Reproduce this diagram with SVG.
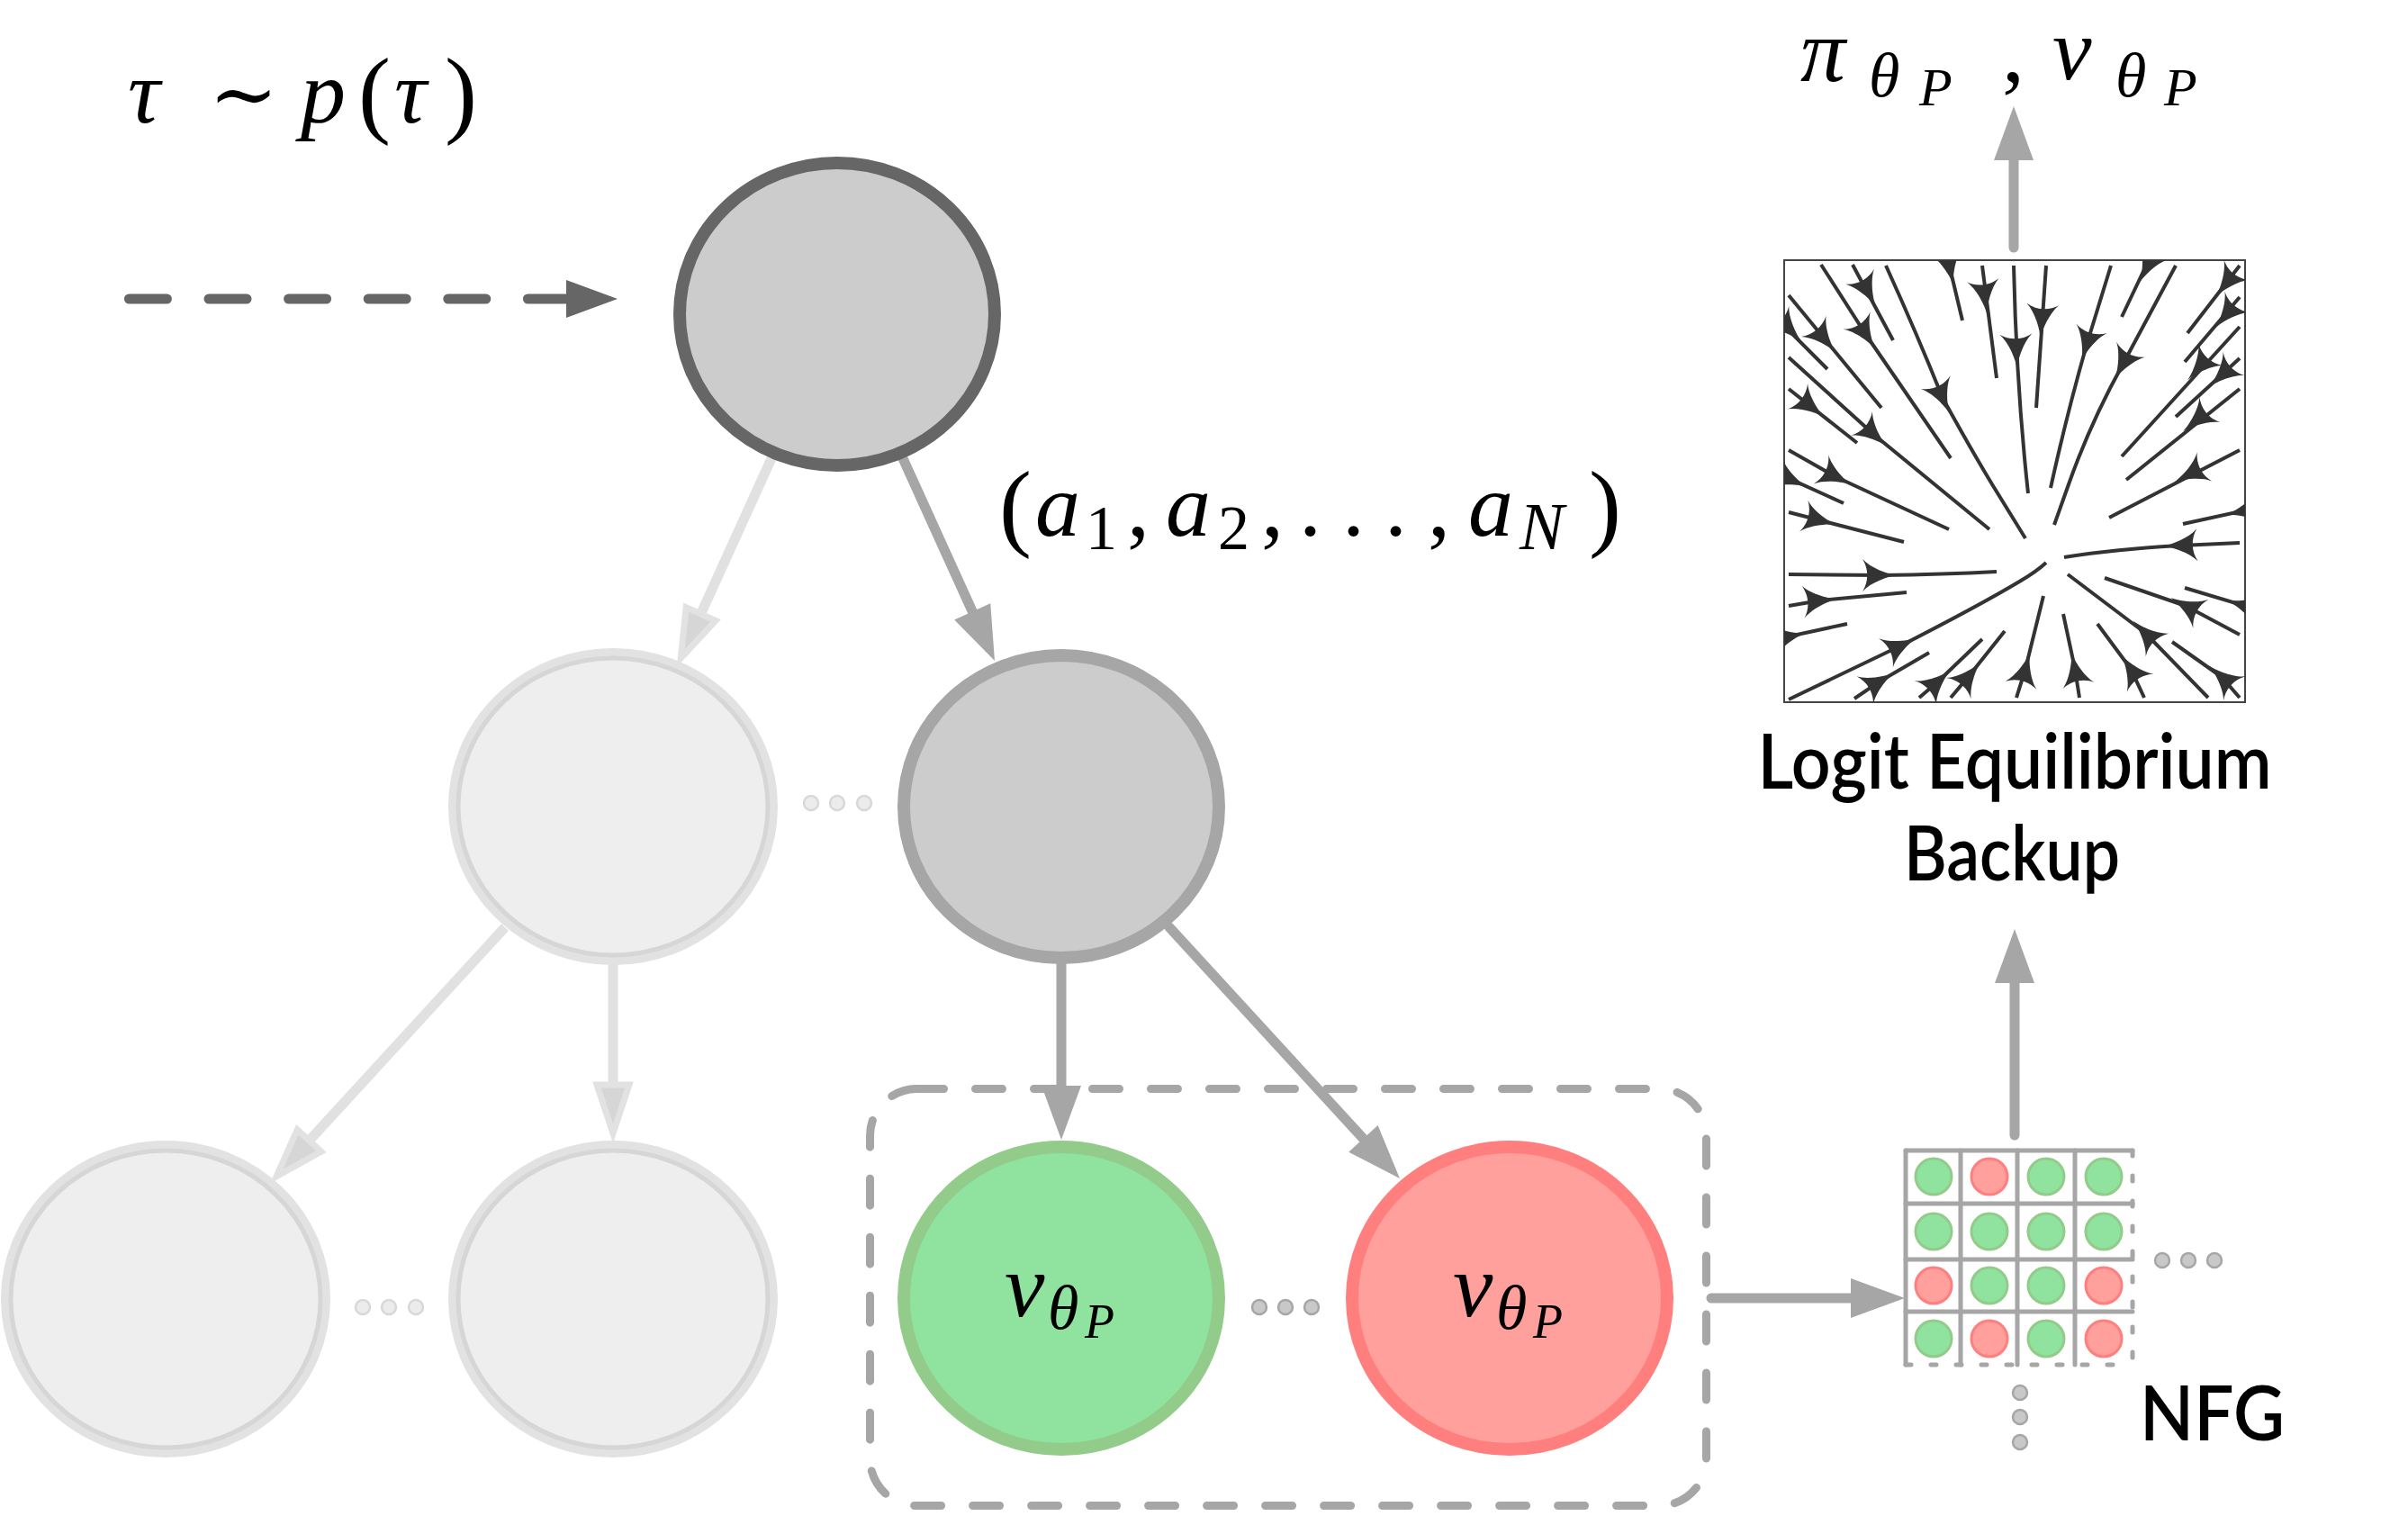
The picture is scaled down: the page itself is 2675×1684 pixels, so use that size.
<svg xmlns="http://www.w3.org/2000/svg" width="2675" height="1684" viewBox="0 0 2675 1684">
<defs>
<style>
text.m{font-family:'Liberation Serif','DejaVu Serif',serif;font-style:italic;fill:#000}
tspan.u{font-style:normal}
text.sans{font-family:Lato,'Liberation Sans',sans-serif;font-weight:600;fill:#000}
.cd{fill:none;stroke:#a6a6a6;stroke-width:11;stroke-linecap:round}
.cl{fill:none;stroke:#e1e1e1;stroke-width:11}
.sl{fill:none;stroke:#333;stroke-width:4}
.g{fill:#8fe39f;stroke:#93cb8b;stroke-width:3}
.rd{fill:#ffa09c;stroke:#ff7f7f;stroke-width:3}
.grid{stroke:#a6a6a6;stroke-width:5;fill:none;stroke-linecap:round}
.dd{fill:#c8c8c8;stroke:#a6a6a6;stroke-width:2.5}
.ld{fill:#ececec;stroke:#d8d8d8;stroke-width:2.5}
.lo{fill:none;stroke:#e2e2e2;stroke-width:14}
.li{fill:#eeeeee;stroke:#d6d6d6;stroke-width:5}
</style>
<marker id="hd" markerUnits="userSpaceOnUse" markerWidth="70" markerHeight="50" refX="0" refY="22" orient="auto" overflow="visible"><path d="M0,0 L60,22 L0,44 Z" fill="#a6a6a6"/></marker>
<marker id="hk" markerUnits="userSpaceOnUse" markerWidth="70" markerHeight="50" refX="0" refY="21" orient="auto" overflow="visible"><path d="M0,0 L57,21 L0,42 Z" fill="#666666"/></marker>
<marker id="hl" markerUnits="userSpaceOnUse" markerWidth="70" markerHeight="50" refX="0" refY="22" orient="auto" overflow="visible"><path d="M3,4 L57,22 L3,40 Z" fill="#d6d6d6" stroke="#e2e2e2" stroke-width="7"/></marker>
<path id="sa" d="M19,0 C10,1 -10,8 -19,18 C-12,7 -12,-7 -19,-18 C-10,-8 10,-1 19,0 Z" fill="#333"/>
<clipPath id="bx"><rect x="1982" y="289" width="512" height="491"/></clipPath>
</defs>
<rect width="2675" height="1684" fill="#fff"/>

<g id="group-box">
<rect x="966.5" y="1209.5" width="929" height="463" rx="52" fill="none" stroke="#a6a6a6" stroke-width="9" stroke-dasharray="30 35" stroke-linecap="round"/>
</g>

<g id="connectors">
<path d="M143.4,332 L629,332" fill="none" stroke="#666666" stroke-width="11" stroke-linecap="round" stroke-dasharray="42 46.6" marker-end="url(#hk)"/>
<path class="cl" d="M858,507 L779.8,679.3" marker-end="url(#hl)"/>
<path class="cd" d="M1002,507 L1080.2,679.3" marker-end="url(#hd)"/>
<path class="cd" d="M1179,1070 L1179,1206" marker-end="url(#hd)"/>
<path class="cd" d="M1299,1030 L1514.4,1264.8" marker-end="url(#hd)"/>
<path class="cl" d="M561,1030 L345.6,1264.8" marker-end="url(#hl)"/>
<path class="cl" d="M681,1070 L681,1202" marker-end="url(#hl)"/>
<path class="cd" d="M1901,1442 L2056,1442" marker-end="url(#hd)"/>
<path class="cd" d="M2238,1261 L2238,1092" marker-end="url(#hd)"/>
<path class="cd" d="M2237,275 L2237,178" marker-end="url(#hd)"/>
</g>

<g id="node-root">
<ellipse cx="930" cy="349" rx="175" ry="168" fill="#cccccc" stroke="#666666" stroke-width="14"/>
</g>
<g id="node-mid-light">
<ellipse class="lo" cx="681" cy="896" rx="176" ry="169"/>
<ellipse class="li" cx="681" cy="896" rx="172" ry="165"/>
</g>
<g id="node-mid-dark">
<ellipse cx="1179" cy="896" rx="175" ry="168" fill="#cccccc" stroke="#a6a6a6" stroke-width="14"/>
</g>
<g id="node-leaf-light-1">
<ellipse class="lo" cx="184" cy="1443" rx="176" ry="169"/>
<ellipse class="li" cx="184" cy="1443" rx="172" ry="165"/>
</g>
<g id="node-leaf-light-2">
<ellipse class="lo" cx="681" cy="1443" rx="176" ry="169"/>
<ellipse class="li" cx="681" cy="1443" rx="172" ry="165"/>
</g>
<g id="node-leaf-green">
<ellipse cx="1179" cy="1442" rx="175" ry="168" fill="#8fe39f" stroke="#93cb8b" stroke-width="14"/>
<text class="m"><tspan x="1116" y="1462" font-size="100">v</tspan><tspan x="1164" y="1476" font-size="70">θ</tspan><tspan x="1205" y="1486" font-size="54">P</tspan></text>
</g>
<g id="node-leaf-red">
<ellipse cx="1677" cy="1442" rx="175" ry="168" fill="#ffa09c" stroke="#ff7f7f" stroke-width="14"/>
<text class="m"><tspan x="1614" y="1462" font-size="100">v</tspan><tspan x="1662" y="1476" font-size="70">θ</tspan><tspan x="1703" y="1486" font-size="54">P</tspan></text>
</g>

<g id="ellipses">
<circle class="ld" cx="901" cy="892" r="8"/><circle class="ld" cx="930" cy="892" r="8"/><circle class="ld" cx="960" cy="892" r="8"/>
<circle class="ld" cx="403" cy="1452" r="8"/><circle class="ld" cx="432" cy="1452" r="8"/><circle class="ld" cx="462" cy="1452" r="8"/>
<circle class="dd" cx="1399" cy="1452" r="8"/><circle class="dd" cx="1428" cy="1452" r="8"/><circle class="dd" cx="1457" cy="1452" r="8"/>
</g>

<g id="labels">
<text class="m"><tspan x="142" y="136" font-size="100">τ</tspan><tspan class="u" x="232" y="136" font-size="92">∼</tspan><tspan x="334" y="136" font-size="100">p</tspan><tspan class="u" x="398" y="139" font-size="108">(</tspan><tspan x="438" y="136" font-size="100">τ</tspan><tspan class="u" x="494" y="139" font-size="108">)</tspan></text>
<text class="m"><tspan class="u" x="1110" y="598" font-size="108">(</tspan><tspan x="1150" y="595" font-size="100">a</tspan><tspan class="u" x="1206" y="610" font-size="70">1</tspan><tspan class="u" x="1252" y="595" font-size="100">,</tspan><tspan x="1295" y="595" font-size="100">a</tspan><tspan class="u" x="1353" y="610" font-size="70">2</tspan><tspan class="u" x="1401" y="595" font-size="100">,</tspan><tspan class="u" x="1443" y="595" font-size="100">.</tspan><tspan class="u" x="1491" y="595" font-size="100">.</tspan><tspan class="u" x="1538" y="595" font-size="100">.</tspan><tspan class="u" x="1586" y="595" font-size="100">,</tspan><tspan x="1631" y="595" font-size="100">a</tspan><tspan x="1688" y="610" font-size="74">N</tspan><tspan class="u" x="1765" y="598" font-size="108">)</tspan></text>
<text class="m"><tspan x="2000" y="90" font-size="100">π</tspan><tspan x="2076" y="107" font-size="70">θ</tspan><tspan x="2132" y="117" font-size="60">P</tspan><tspan class="u" x="2224" y="90" font-size="100">,</tspan><tspan x="2280" y="88" font-size="98">v</tspan><tspan x="2350" y="107" font-size="70">θ</tspan><tspan x="2404" y="117" font-size="60">P</tspan></text>
<text class="sans" text-anchor="middle" font-size="84"><tspan x="2238" y="876" textLength="571" lengthAdjust="spacingAndGlyphs">Logit Equilibrium</tspan></text>
<text class="sans" text-anchor="middle" font-size="84"><tspan x="2235" y="978" textLength="240" lengthAdjust="spacingAndGlyphs">Backup</tspan></text>
<text class="sans" x="2377" y="1600" font-size="84" textLength="161" lengthAdjust="spacingAndGlyphs">NFG</text>
</g>

<g id="nfg">
<g class="grid">
<path d="M2117,1278 V1516 M2178,1278 V1516 M2241,1278 V1516 M2305,1278 V1516"/>
<path d="M2117,1278 H2369 M2117,1337 H2369 M2117,1399 H2369 M2117,1457 H2369"/>
<path d="M2369,1278 V1516 M2117,1516 H2369" stroke-dasharray="6 22" stroke-linecap="round"/>
</g>
<circle class="g" cx="2148" cy="1307" r="20"/><circle class="rd" cx="2210" cy="1307" r="20"/><circle class="g" cx="2273" cy="1307" r="20"/><circle class="g" cx="2337" cy="1307" r="20"/>
<circle class="g" cx="2148" cy="1368" r="20"/><circle class="g" cx="2210" cy="1368" r="20"/><circle class="g" cx="2273" cy="1368" r="20"/><circle class="g" cx="2337" cy="1368" r="20"/>
<circle class="rd" cx="2148" cy="1428" r="20"/><circle class="g" cx="2210" cy="1428" r="20"/><circle class="g" cx="2273" cy="1428" r="20"/><circle class="rd" cx="2337" cy="1428" r="20"/>
<circle class="g" cx="2148" cy="1487" r="20"/><circle class="rd" cx="2210" cy="1487" r="20"/><circle class="g" cx="2273" cy="1487" r="20"/><circle class="rd" cx="2337" cy="1487" r="20"/>
<circle class="dd" cx="2402" cy="1400" r="8"/><circle class="dd" cx="2431" cy="1400" r="8"/><circle class="dd" cx="2460" cy="1400" r="8"/>
<circle class="dd" cx="2244" cy="1547" r="8"/><circle class="dd" cx="2244" cy="1574" r="8"/><circle class="dd" cx="2244" cy="1602" r="8"/>
</g>

<g id="streamplot">
<rect x="1982" y="289" width="512" height="491" fill="#fff" stroke="#444" stroke-width="2"/>
<g clip-path="url(#bx)">
<g class="sl" stroke-linejoin="round">
<path d="M1987,328 L2090,453"/>
<path d="M1982,362 L2030,410"/>
<path d="M2023,294 L2073,372 L2167,509"/>
<path d="M2058,294 L2103,378"/>
<path d="M2095,295 Q2130,372 2158,442 Q2190,500 2213,538 L2250,598"/>
<path d="M1987,397 L2082,483 L2210,588"/>
<path d="M1987,432 L2063,492"/>
<path d="M1987,500 L2040,530 L2165,588"/>
<path d="M1982,529 L2048,559"/>
<path d="M2165,293 L2180,356"/>
<path d="M2202,295 L2218,420"/>
<path d="M2237,295 Q2240,430 2253,548"/>
<path d="M2273,295 L2262,453"/>
<path d="M2345,295 L2318,383 Q2296,460 2278,542"/>
<path d="M2385,293 L2357,352"/>
<path d="M2417,295 L2358,405 Q2322,470 2298,538 L2282,583"/>
<path d="M2488,295 L2430,370"/>
<path d="M2488,330 L2427,402"/>
<path d="M2488,363 L2357,507"/>
<path d="M2488,398 L2417,463"/>
<path d="M2488,432 L2362,533"/>
<path d="M2488,500 L2343,575"/>
<path d="M2494,567 L2425,582"/>
<path d="M2488,603 L2422,606 Q2350,610 2293,619"/>
<path d="M2488,705 L2428,673 L2338,642"/>
<path d="M2494,673 L2427,653"/>
<path d="M2488,775 L2468,752 L2413,713"/>
<path d="M2453,775 L2383,703 L2297,638"/>
<path d="M2382,775 L2367,743 L2330,693"/>
<path d="M2310,775 L2305,743 L2292,682"/>
<path d="M2240,775 L2250,743 L2270,662"/>
<path d="M2167,775 L2188,750 L2227,701"/>
<path d="M2132,775 L2153,757 L2202,710"/>
<path d="M2060,776 L2088,757 L2143,725"/>
<path d="M1987,777 L2112,717 Q2200,672 2245,645 Q2262,635 2273,625"/>
<path d="M1982,708 L2052,693"/>
<path d="M1987,673 L2022,667 L2118,658"/>
<path d="M1987,638 L2088,639 Q2160,638 2218,635"/>
<path d="M1987,569 L2022,578 L2115,602"/>
</g>
<use href="#sa" transform="translate(2027,377) rotate(50)"/>
<use href="#sa" transform="translate(1988,366) rotate(45)"/>
<use href="#sa" transform="translate(2073,372) rotate(57)"/>
<use href="#sa" transform="translate(2075,324) rotate(62)"/>
<use href="#sa" transform="translate(2158,442) rotate(66)"/>
<use href="#sa" transform="translate(2082,483) rotate(42)"/>
<use href="#sa" transform="translate(2012,452) rotate(38)"/>
<use href="#sa" transform="translate(2040,530) rotate(27)"/>
<use href="#sa" transform="translate(1990,533) rotate(24)"/>
<use href="#sa" transform="translate(2166,298) rotate(78)"/>
<use href="#sa" transform="translate(2205,330) rotate(83)"/>
<use href="#sa" transform="translate(2240,390) rotate(88)"/>
<use href="#sa" transform="translate(2268,357) rotate(94)"/>
<use href="#sa" transform="translate(2318,383) rotate(107)"/>
<use href="#sa" transform="translate(2385,297) rotate(116)"/>
<use href="#sa" transform="translate(2358,405) rotate(118)"/>
<use href="#sa" transform="translate(2473,315) rotate(128)"/>
<use href="#sa" transform="translate(2473,350) rotate(130)"/>
<use href="#sa" transform="translate(2443,408) rotate(132)"/>
<use href="#sa" transform="translate(2468,417) rotate(137)"/>
<use href="#sa" transform="translate(2440,467) rotate(141)"/>
<use href="#sa" transform="translate(2432,527) rotate(153)"/>
<use href="#sa" transform="translate(2491,568) rotate(168)"/>
<use href="#sa" transform="translate(2422,606) rotate(178)"/>
<use href="#sa" transform="translate(2428,673) rotate(208)"/>
<use href="#sa" transform="translate(2491,672) rotate(196)"/>
<use href="#sa" transform="translate(2468,752) rotate(222)"/>
<use href="#sa" transform="translate(2383,703) rotate(225)"/>
<use href="#sa" transform="translate(2367,743) rotate(236)"/>
<use href="#sa" transform="translate(2305,743) rotate(258)"/>
<use href="#sa" transform="translate(2250,743) rotate(285)"/>
<use href="#sa" transform="translate(2188,750) rotate(310)"/>
<use href="#sa" transform="translate(2153,757) rotate(318)"/>
<use href="#sa" transform="translate(2088,757) rotate(329)"/>
<use href="#sa" transform="translate(2112,717) rotate(334)"/>
<use href="#sa" transform="translate(1988,707) rotate(348)"/>
<use href="#sa" transform="translate(2022,667) rotate(355)"/>
<use href="#sa" transform="translate(2088,639) rotate(0)"/>
<use href="#sa" transform="translate(2022,578) rotate(15)"/>
</g>
</g>
</svg>
